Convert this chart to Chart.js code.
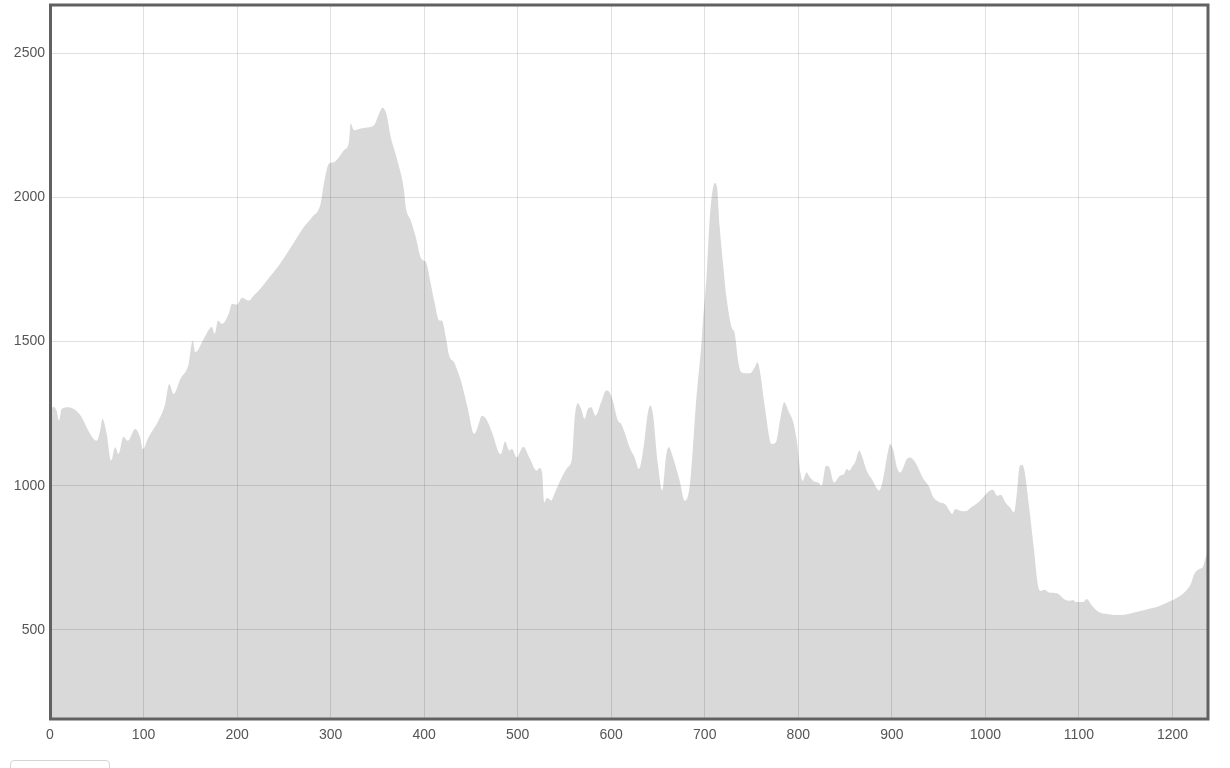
<!DOCTYPE html>
<html>
<head>
<meta charset="utf-8">
<script src="https://cdn.jsdelivr.net/npm/chart.js@4"></script>
<style>
  body { margin: 0; background: #fff; }
  #wrap { position: relative; width: 1230px; height: 768px; overflow: hidden; }
  #btn { position: absolute; left: 10px; top: 760px; width: 98px; height: 30px;
         border: 1px solid #d4d4d4; border-radius: 4px; background: #fff; }
</style>
</head>
<body>
<div id="wrap">
  <canvas id="perfil" width="1230" height="768"></canvas>
  <div id="btn"></div>
</div>
<script>
// distância (km) e altitude (m)
const distancias = [
  0, 3.5, 7.1, 9.6, 12.4, 19.6, 26.8, 33.9, 41.0, 49.9, 53.6, 56.0, 60.6, 65.4, 69.6, 73.2, 78.5, 83.1, 91.1, 96.4,
  99.2, 105.3, 116.0, 123.2, 127.5, 132.1, 139.3, 148.2, 152.5, 155.4, 164.3, 173.1, 176.0, 179.6, 183.9, 191.0, 194.6, 199.9, 205.3, 212.5,
  217.8, 225.3, 233.9, 244.6, 255.3, 264.2, 271.4, 280.3, 289.3, 292.8, 298.2, 303.5, 308.9, 314.2, 319.6, 321.4, 324.9, 332.1, 339.2, 346.4,
  351.7, 355.3, 359.6, 364.3, 371.4, 378.5, 380.4, 385.7, 391.1, 396.8, 402.1, 406.4, 410.7, 416.1, 418.9, 423.2, 426.8, 432.1, 435.6, 439.3,
  446.4, 453.5, 457.1, 461.8, 466.1, 473.1, 479.6, 482.1, 486.4, 491.0, 493.9, 498.9, 506.0, 512.5, 520.3, 523.2, 526.1, 528.5, 531.0, 533.9,
  535.7, 539.2, 548.1, 553.5, 558.2, 560.7, 564.2, 567.9, 571.4, 575.0, 578.6, 583.2, 589.3, 594.6, 598.2, 601.7, 607.1, 610.7, 614.3, 619.6,
  625.0, 629.6, 634.6, 639.2, 641.8, 644.6, 649.9, 654.6, 658.9, 661.7, 666.0, 673.2, 678.5, 683.9, 691.1, 696.4, 698.1, 701.8, 705.4, 708.3,
  710.7, 713.1, 716.0, 719.6, 723.2, 728.6, 732.1, 735.6, 739.3, 748.2, 753.5, 756.4, 758.9, 764.3, 771.4, 776.1, 780.4, 785.0, 789.3, 794.6,
  798.9, 802.5, 804.6, 808.9, 812.5, 816.8, 821.4, 825.0, 829.6, 833.1, 838.2, 844.6, 848.9, 851.8, 854.6, 857.1, 860.7, 865.3, 867.9, 873.2,
  878.6, 886.7, 891.0, 895.3, 898.2, 901.7, 905.4, 909.0, 916.1, 919.6, 925.0, 933.9, 939.2, 944.6, 951.8, 957.1, 961.7, 964.3, 967.9, 973.2,
  978.5, 983.9, 991.1, 998.1, 1003.5, 1008.2, 1012.5, 1016.8, 1021.4, 1026.8, 1030.4, 1034.0, 1036.7, 1039.3, 1041.8, 1046.4, 1051.7, 1056.0, 1058.9, 1063.2,
  1067.8, 1076.8, 1083.9, 1089.2, 1093.9, 1096.4, 1104.6, 1108.2, 1114.3, 1121.4, 1130.4, 1137.4, 1146.4, 1158.9, 1173.2, 1183.9, 1194.6, 1205.4, 1214.3, 1219.6,
  1223.2, 1228.6, 1232.1, 1235.6, 1238.1
];
const altitudes = [
  1249, 1274, 1260, 1226, 1266, 1272, 1263, 1237, 1191, 1156, 1191, 1232, 1180, 1087, 1133, 1110, 1170, 1156, 1197, 1168,
  1127, 1168, 1226, 1284, 1353, 1318, 1370, 1422, 1503, 1463, 1509, 1550, 1527, 1573, 1561, 1596, 1631, 1628, 1652, 1642,
  1660, 1685, 1720, 1764, 1816, 1862, 1897, 1932, 1978, 2047, 2117, 2122, 2139, 2163, 2192, 2256, 2233, 2239, 2242, 2250,
  2290, 2311, 2290, 2209, 2128, 2024, 1966, 1920, 1862, 1788, 1774, 1712, 1642, 1573, 1573, 1515, 1451, 1428, 1399, 1365,
  1272, 1180, 1202, 1243, 1232, 1180, 1116, 1110, 1153, 1122, 1127, 1098, 1135, 1098, 1052, 1061, 1046, 942, 957, 954,
  948, 971, 1035, 1064, 1098, 1226, 1286, 1266, 1232, 1266, 1272, 1243, 1290, 1330, 1324, 1295, 1226, 1214, 1185, 1133,
  1098, 1058, 1133, 1255, 1278, 1249, 1075, 983, 1110, 1133, 1098, 1017, 948, 1000, 1307, 1492, 1573, 1723, 1932, 2024,
  2050, 2036, 1897, 1770, 1654, 1550, 1527, 1434, 1393, 1390, 1411, 1428, 1399, 1272, 1145, 1150, 1226, 1289, 1260, 1220,
  1145, 1041, 1017, 1046, 1029, 1015, 1011, 1000, 1069, 1064, 1011, 1035, 1041, 1058, 1052, 1064, 1081, 1122, 1104, 1052,
  1023, 983, 1029, 1110, 1145, 1122, 1064, 1046, 1093, 1098, 1081, 1023, 1000, 959, 942, 936, 913, 902, 919, 913,
  911, 923, 939, 962, 980, 986, 965, 969, 942, 923, 907, 983, 1069, 1073, 1052, 936, 786, 659, 635, 639,
  630, 627, 607, 601, 604, 597, 597, 607, 583, 562, 555, 552, 552, 560, 572, 580, 595, 612, 635, 659,
  693, 711, 716, 751, 774
];
const ticksX = [0, 100, 200, 300, 400, 500, 600, 700, 800, 900, 1000, 1100, 1200];
const ticksY = [500, 1000, 1500, 2000, 2500];

// moldura escura em volta da área do gráfico
const moldura = {
  id: "moldura",
  afterDraw(chart) {
    const a = chart.chartArea;
    const ctx = chart.ctx;
    ctx.save();
    ctx.strokeStyle = "#616161";
    ctx.lineWidth = 3;
    ctx.strokeRect(a.left + 0.5, a.top, a.right - a.left - 0.5, a.bottom - a.top);
    ctx.restore();
  }
};

const fonte = { family: "'Liberation Sans', Arial, sans-serif", size: 14 };

new Chart(document.getElementById("perfil"), {
  type: "line",
  data: {
    datasets: [{
      data: distancias.map((d, i) => ({ x: d, y: altitudes[i] })),
      fill: "start",
      backgroundColor: "rgba(0,0,0,0.15)",
      borderWidth: 0,
      pointRadius: 0,
      tension: 0.3,
      cubicInterpolationMode: "monotone"
    }]
  },
  options: {
    responsive: false,
    animation: false,
    layout: { padding: { top: 5, right: 22, left: 0, bottom: 0 } },
    plugins: { legend: { display: false }, tooltip: { enabled: false } },
    scales: {
      x: {
        type: "linear",
        min: 0,
        max: 1238,
        afterBuildTicks: (s) => { s.ticks = ticksX.map(v => ({ value: v })); },
        afterFit: (s) => { s.height = 49; s.paddingLeft = 0; s.paddingRight = 0; },
        grid: { color: "rgba(0,0,0,0.12)", drawTicks: false },
        border: { display: false },
        ticks: { color: "#555", font: fonte, padding: 8, maxRotation: 0, callback: (v) => String(v) }
      },
      y: {
        min: 191,
        max: 2667,
        afterBuildTicks: (s) => { s.ticks = ticksY.map(v => ({ value: v })); },
        afterFit: (s) => { s.width = 50; s.paddingTop = 0; s.paddingBottom = 0; },
        grid: { color: "rgba(0,0,0,0.12)", drawTicks: false },
        border: { display: false },
        ticks: { color: "#555", font: fonte, padding: 5, callback: (v) => String(v) }
      }
    }
  },
  plugins: [moldura]
});
</script>
</body>
</html>
